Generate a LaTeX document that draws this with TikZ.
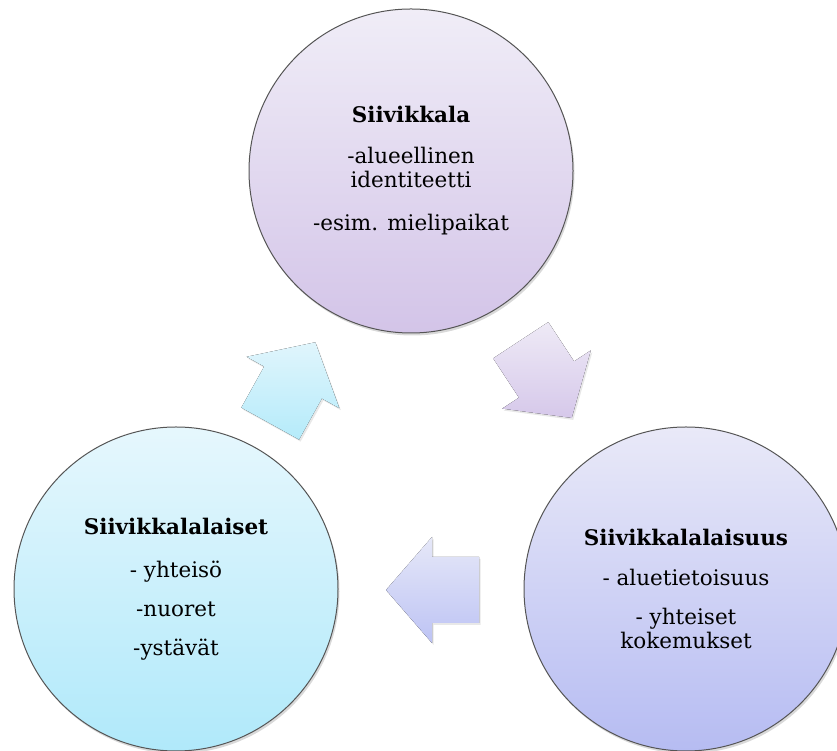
\documentclass[tikz,border=0pt]{standalone}
\usepackage{fontspec}
\setmainfont{DejaVu Serif}
\usetikzlibrary{shadows}
\definecolor{topA}{HTML}{F0EDF7}
\definecolor{topB}{HTML}{D3C4E8}
\definecolor{leftA}{HTML}{E6F7FD}
\definecolor{leftB}{HTML}{B0E9FA}
\definecolor{rightA}{HTML}{E9E9F8}
\definecolor{rightB}{HTML}{B6BCF2}
\definecolor{upA}{HTML}{E0F5FC}
\definecolor{upB}{HTML}{B5EBFA}
\definecolor{dnA}{HTML}{EEEAF6}
\definecolor{dnB}{HTML}{D6C8EA}
\definecolor{lfA}{HTML}{E6E8F8}
\definecolor{lfB}{HTML}{BDC3F4}
\definecolor{rim}{HTML}{555555}
\newcommand{\blockarrow}[5]{%
  \fill[top color=#4, bottom color=#5, drop shadow={opacity=0.18, shadow xshift=1.5pt, shadow yshift=-2pt},
        shift={(#1,#2)}, rotate=#3]
    (-47,-33) -- (0,-33) -- (0,-53) -- (46,0) -- (0,53) -- (0,33) -- (-47,33) -- cycle;}
\begin{document}
\begin{tikzpicture}[x=1pt,y=1pt,
  bubble/.style={circle, minimum size=324pt, inner sep=0pt, draw=rim, line width=1pt,
    align=center, font=\fontsize{21.5}{24}\selectfont,
    drop shadow={opacity=0.3, shadow xshift=1.5pt, shadow yshift=-2.5pt}}]
\useasboundingbox (0,0) rectangle (837,751);
\node[bubble, top color=topA, bottom color=topB] (top) at (411,580)
  {{\bfseries Siivikkala}\\[17pt]-alueellinen\\identiteetti\\[19pt]-esim. mielipaikat};
\node[bubble, top color=leftA, bottom color=leftB] (left) at (176,162)
  {{\bfseries Siivikkalalaiset}\\[19pt]- yhteisö\\[15pt]-nuoret\\[15pt]-ystävät};
\node[bubble, top color=rightA, bottom color=rightB] (right) at (686,162)
  {{\bfseries Siivikkalalaisuus}\\[16pt]- aluetietoisuus\\[15pt]- yhteiset\\kokemukset};
\blockarrow{293}{368.5}{61}{upA}{upB}
\blockarrow{546.5}{371.5}{-56.7}{dnA}{dnB}
\blockarrow{432}{161}{180}{lfA}{lfB}
\end{tikzpicture}
\end{document}
